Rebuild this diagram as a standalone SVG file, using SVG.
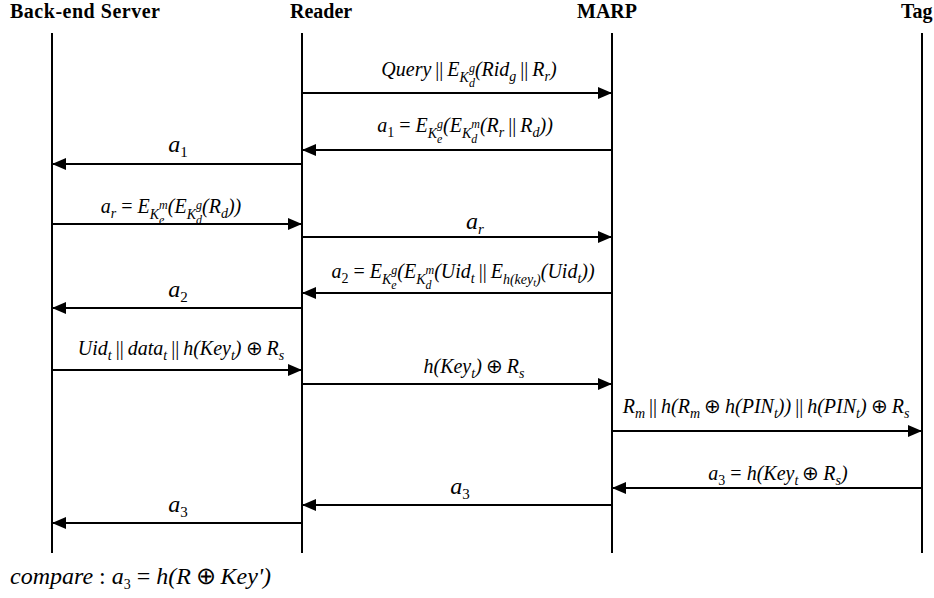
<svg xmlns="http://www.w3.org/2000/svg" width="934" height="598" viewBox="0 0 934 598">
<defs>
<marker id="ah" viewBox="0 0 14 12" refX="14" refY="6" markerWidth="14" markerHeight="12" orient="auto" markerUnits="userSpaceOnUse">
<path d="M0,0 L14,6 L0,12 Z" fill="#000"/>
</marker>
<style>
.hd{font-family:"Liberation Serif",serif;font-weight:bold;font-size:20px;fill:#000}
.life{stroke:#000;stroke-width:2}
.msg{stroke:#000;stroke-width:2;marker-end:url(#ah)}
.t{font-family:"Liberation Serif",serif;font-style:italic;font-size:20px;fill:#000}
.b{font-size:24px}
.bs{font-size:15px}
.s{font-size:14px}
.ss{font-size:12px}
.sss{font-size:10px}
.u{font-style:normal}
</style>
</defs>
<rect width="934" height="598" fill="#fff"/>
<g id="server"><text class="hd" x="10" y="18" textLength="150">Back-end Server</text><line class="life" x1="52" y1="33" x2="52" y2="553"/></g>
<g id="reader"><text class="hd" x="290" y="18">Reader</text><line class="life" x1="302" y1="33" x2="302" y2="553"/></g>
<g id="marp"><text class="hd" x="577" y="18">MARP</text><line class="life" x1="612" y1="33" x2="612" y2="553"/></g>
<g id="tag"><text class="hd" x="901" y="18">Tag</text><line class="life" x1="922" y1="33" x2="922" y2="553"/></g>
<g id="connectors">
<line class="msg" x1="302" y1="93" x2="612" y2="93"/>
<line class="msg" x1="612" y1="150" x2="302" y2="150"/>
<line class="msg" x1="302" y1="164" x2="52" y2="164"/>
<line class="msg" x1="52" y1="224" x2="302" y2="224"/>
<line class="msg" x1="302" y1="237" x2="612" y2="237"/>
<line class="msg" x1="612" y1="293" x2="302" y2="293"/>
<line class="msg" x1="302" y1="308" x2="52" y2="308"/>
<line class="msg" x1="52" y1="370" x2="302" y2="370"/>
<line class="msg" x1="302" y1="384" x2="612" y2="384"/>
<line class="msg" x1="612" y1="431" x2="922" y2="431"/>
<line class="msg" x1="922" y1="488" x2="612" y2="488"/>
<line class="msg" x1="612" y1="505" x2="302" y2="505"/>
<line class="msg" x1="302" y1="523" x2="52" y2="523"/>
</g>
<g id="labels">
<text class="t" x="469" y="76" text-anchor="middle">Query<tspan class="u">&#8201;||&#8201;</tspan>E<tspan class="s" dy="6">K</tspan><tspan class="ss" dy="-10">g</tspan><tspan class="ss" dx="-6" dy="15">d</tspan><tspan dy="-11">(Rid</tspan><tspan class="s" dy="5">g</tspan><tspan class="u" dy="-5">&#8201;||&#8201;</tspan>R<tspan class="s" dy="5">r</tspan><tspan dy="-5">)</tspan></text>
<text class="t" x="465" y="132" text-anchor="middle">a<tspan class="s u" dy="5">1</tspan><tspan class="u" dy="-5"> = </tspan>E<tspan class="s" dy="6">K</tspan><tspan class="ss" dy="5">e</tspan><tspan class="ss" dx="-5.3" dy="-15">g</tspan><tspan dy="4">(E</tspan><tspan class="s" dy="6">K</tspan><tspan class="ss" dy="5">d</tspan><tspan class="ss" dx="-6" dy="-15">m</tspan><tspan dy="4">(R</tspan><tspan class="s" dy="5">r</tspan><tspan class="u" dy="-5">&#8201;||&#8201;</tspan>R<tspan class="s" dy="5">d</tspan><tspan dy="-5">))</tspan></text>
<text class="t b" x="178" y="152" text-anchor="middle">a<tspan class="bs u" dy="5">1</tspan></text>
<text class="t" x="171" y="213" text-anchor="middle">a<tspan class="s" dy="5">r</tspan><tspan class="u" dy="-5"> = </tspan>E<tspan class="s" dy="6">K</tspan><tspan class="ss" dy="5">e</tspan><tspan class="ss" dx="-5.3" dy="-15">m</tspan><tspan dy="4">(E</tspan><tspan class="s" dy="6">K</tspan><tspan class="ss" dy="-10">g</tspan><tspan class="ss" dx="-6" dy="15">d</tspan><tspan dy="-11">(R</tspan><tspan class="s" dy="5">d</tspan><tspan dy="-5">))</tspan></text>
<text class="t b" x="475" y="229" text-anchor="middle">a<tspan class="bs" dy="5">r</tspan></text>
<text class="t" x="463" y="278" text-anchor="middle">a<tspan class="s u" dy="5">2</tspan><tspan class="u" dy="-5"> = </tspan>E<tspan class="s" dy="6">K</tspan><tspan class="ss" dy="5">e</tspan><tspan class="ss" dx="-5.3" dy="-15">g</tspan><tspan dy="4">(E</tspan><tspan class="s" dy="6">K</tspan><tspan class="ss" dy="5">d</tspan><tspan class="ss" dx="-6" dy="-15">m</tspan><tspan dy="4">(Uid</tspan><tspan class="s" dy="5">t</tspan><tspan class="u" dy="-5">&#8201;||&#8201;</tspan>E<tspan class="s" dy="6">h(key</tspan><tspan class="sss" dy="2">t</tspan><tspan class="s" dy="-2">)</tspan><tspan dy="-6">(Uid</tspan><tspan class="s" dy="5">t</tspan><tspan dy="-5">))</tspan></text>
<text class="t b" x="178" y="297" text-anchor="middle">a<tspan class="bs u" dy="5">2</tspan></text>
<text class="t" x="181" y="355" text-anchor="middle">Uid<tspan class="s" dy="5">t</tspan><tspan class="u" dy="-5">&#8201;||&#8201;</tspan>data<tspan class="s" dy="5">t</tspan><tspan class="u" dy="-5">&#8201;||&#8201;</tspan>h(Key<tspan class="s" dy="5">t</tspan><tspan dy="-5">)</tspan><tspan class="u">&#8201;⊕&#8201;</tspan>R<tspan class="s" dy="5">s</tspan></text>
<text class="t" x="474" y="373" text-anchor="middle">h(Key<tspan class="s" dy="5">t</tspan><tspan dy="-5">)</tspan><tspan class="u">&#8201;⊕&#8201;</tspan>R<tspan class="s" dy="5">s</tspan></text>
<text class="t" x="766" y="413" text-anchor="middle">R<tspan class="s" dy="5">m</tspan><tspan class="u" dy="-5">&#8201;||&#8201;</tspan>h(R<tspan class="s" dy="5">m</tspan><tspan class="u" dy="-5">&#8201;⊕&#8201;</tspan>h(PIN<tspan class="s" dy="5">t</tspan><tspan dy="-5">))</tspan><tspan class="u">&#8201;||&#8201;</tspan>h(PIN<tspan class="s" dy="5">t</tspan><tspan dy="-5">)</tspan><tspan class="u">&#8201;⊕&#8201;</tspan>R<tspan class="s" dy="5">s</tspan></text>
<text class="t" x="778" y="480" text-anchor="middle">a<tspan class="s u" dy="5">3</tspan><tspan class="u" dy="-5"> = </tspan>h(Key<tspan class="s" dy="5">t</tspan><tspan class="u" dy="-5">&#8201;⊕&#8201;</tspan>R<tspan class="s" dy="5">s</tspan><tspan dy="-5">)</tspan></text>
<text class="t b" x="460" y="494" text-anchor="middle">a<tspan class="bs u" dy="5">3</tspan></text>
<text class="t b" x="178" y="512" text-anchor="middle">a<tspan class="bs u" dy="5">3</tspan></text>
<text class="t" x="10" y="584" style="font-size:24px">compare<tspan class="u"> : </tspan>a<tspan class="u" dy="5" style="font-size:14px">3</tspan><tspan class="u" dy="-5"> = </tspan>h(R<tspan class="u">&#8201;⊕&#8201;</tspan>Key')</text>
</g>
</svg>
